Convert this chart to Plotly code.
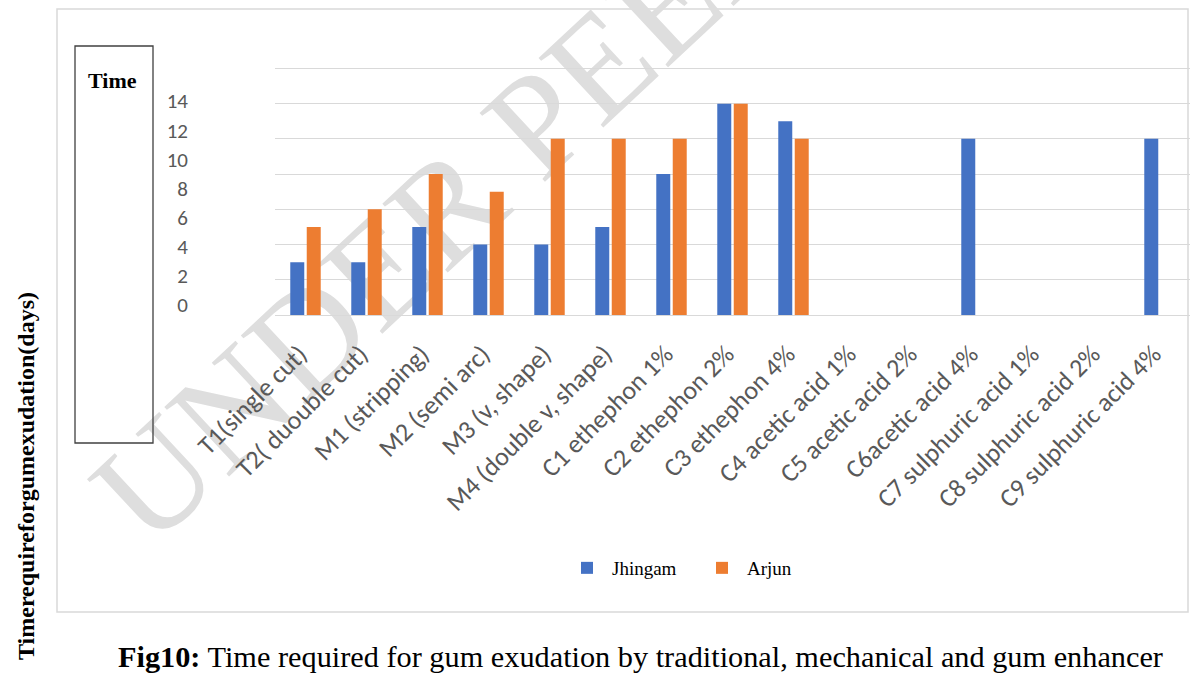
import plotly.graph_objects as go

categories = ["T1(single cut)", "T2( duouble cut)", "M1 (stripping)", "M2 (semi arc)",
              "M3 (v, shape)", "M4 (double v, shape)", "C1 ethephon 1%", "C2 ethephon 2%",
              "C3 ethephon 4%", "C4 acetic acid 1%", "C5 acetic acid 2%", "C6acetic acid 4%",
              "C7 sulphuric acid 1%", "C8 sulphuric acid 2%", "C9 sulphuric acid 4%"]
jhingam = [3, 3, 5, 4, 4, 5, 8, 12, 11, 0, 0, 10, 0, 0, 10]
arjun = [5, 6, 8, 7, 10, 10, 10, 12, 10, 0, 0, 0, 0, 0, 0]
grid_ticks = [0, 2, 4, 6, 8, 10, 12, 14]
label_ticks = [0, 2, 4, 6, 8, 10, 12, 14]
label_text = ["0", "2", "4", "6", "8", "10", "12", "14"]

W, H = 1190, 673
def px(x):
    return x / W
def py(y):
    return (H - y) / H

tickfont = dict(family="Carlito, Lato, sans-serif", size=26, color="#595959")

fig = go.Figure()
fig.add_trace(go.Bar(name="Jhingam", x=categories, y=jhingam, marker_color="#4472C4",
                     marker_line_width=0))
fig.add_trace(go.Bar(name="Arjun", x=categories, y=arjun, marker_color="#ED7D31",
                     marker_line_width=0))
# invisible trace to attach the overlaid label axis
fig.add_trace(go.Scatter(x=[categories[0]], y=[0], yaxis="y2", mode="markers",
                         marker=dict(opacity=0, size=1), showlegend=False, hoverinfo="skip"))

ydom = [py(316.76), py(64)]
fig.update_layout(
    width=W, height=H,
    margin=dict(l=0, r=0, t=0, b=0, autoexpand=False),
    paper_bgcolor="white", plot_bgcolor="rgba(0,0,0,0)",
    barmode="group", bargap=0.46, bargroupgap=0.15,
    xaxis=dict(domain=[px(275), 1], range=[-0.5, len(categories) - 0.5], tickangle=-45,
               tickfont=tickfont, showline=False, ticks="", showgrid=False, zeroline=False,
               automargin=False, ticklabelstandoff=16, ticklabelshift=-6),
    yaxis=dict(domain=ydom, range=[-0.1, 14.25], tickvals=grid_ticks, showticklabels=False,
               showgrid=True, gridcolor="#d9d9d9", gridwidth=1.3, zeroline=False,
               showline=False, ticks="", automargin=False),
    yaxis2=dict(domain=ydom, overlaying="y", range=[-0.807, 16.54], tickvals=label_ticks,
                ticktext=label_text, showgrid=False, zeroline=False, showline=False,
                anchor="free", position=px(188), side="left", ticks="", automargin=False,
                tickfont=dict(family="Carlito, Lato, sans-serif", size=21, color="#595959")),
    legend=dict(orientation="h", x=px(562), y=py(568), yanchor="middle", xanchor="left",
                font=dict(family="Liberation Serif", size=19, color="black"),
                itemwidth=40, entrywidth=80,
                bgcolor="rgba(0,0,0,0)", itemclick=False),
    showlegend=True,
)

shapes = [
    # chart frame
    dict(type="rect", xref="paper", yref="paper", x0=px(57), x1=px(1188), y0=py(612), y1=py(9),
         line=dict(color="#d9d9d9", width=1.5), fillcolor="rgba(0,0,0,0)", layer="below"),
    # "Time" box
    dict(type="rect", xref="paper", yref="paper", x0=px(75), x1=px(153), y0=py(443), y1=py(46),
         line=dict(color="#404040", width=1.3), fillcolor="rgba(0,0,0,0)"),
    # watermark
    dict(type="rect", xref="paper", yref="paper", x0=px(645), x1=px(655), y0=py(0), y1=py(-10),
         line=dict(width=0), fillcolor="rgba(0,0,0,0)", layer="below",
         label=dict(text="UNDER PEER REVIEW", textangle=-43, textposition="middle center",
                    font=dict(family="Liberation Serif", size=145, color="#dedede"))),
]
fig.update_layout(shapes=shapes)

annotations = [
    dict(text="<b>Time</b>", x=px(112), y=py(80), xref="paper", yref="paper", showarrow=False,
         xanchor="center", yanchor="middle",
         font=dict(family="Liberation Serif", size=22, color="black")),
    dict(text="<b>Timerequireforgumexudation(days)</b>", x=px(26), y=py(476), xref="paper",
         yref="paper", showarrow=False, textangle=-90, xanchor="center", yanchor="middle",
         font=dict(family="Liberation Serif", size=24, color="black")),
    dict(text="<b>Fig10:</b> Time required for gum exudation by traditional, mechanical and gum enhancer",
         x=px(640), y=py(657), xref="paper", yref="paper", showarrow=False,
         xanchor="center", yanchor="middle",
         font=dict(family="Liberation Serif", size=30.3, color="black")),
]
fig.update_layout(annotations=annotations)

fig.write_html("out.html", config={"displayModeBar": False},
               post_script="document.body.style.margin='0';")
